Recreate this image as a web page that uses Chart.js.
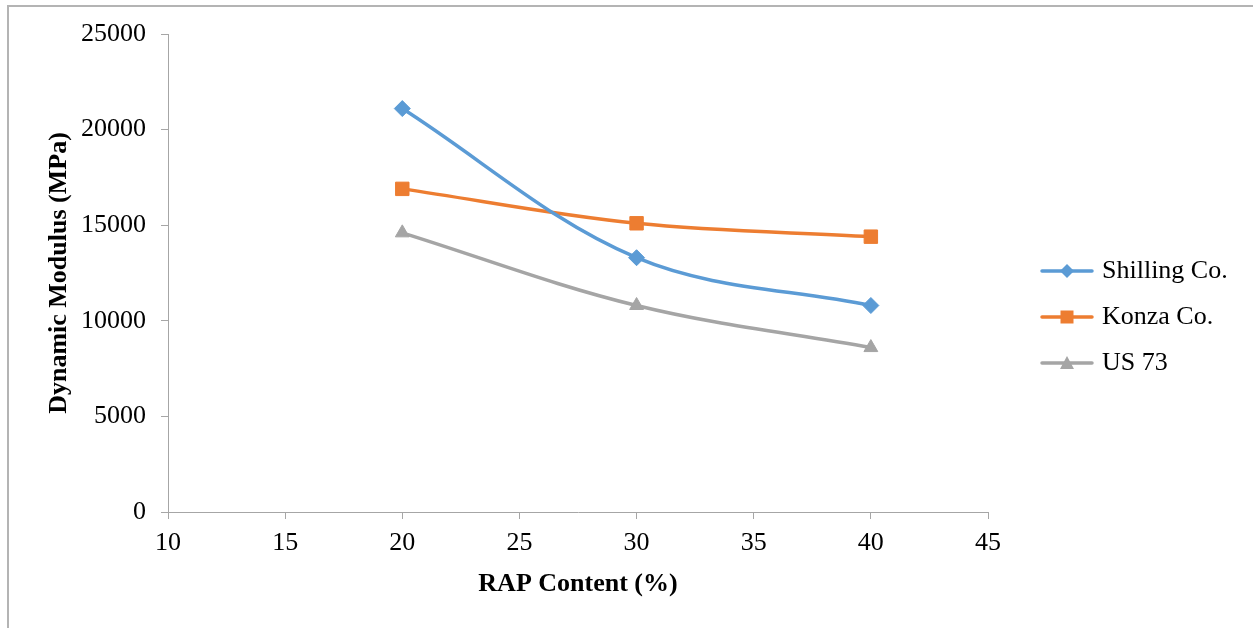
<!DOCTYPE html>
<html>
<head>
<meta charset="utf-8">
<title>Dynamic Modulus vs RAP Content</title>
<script src="https://cdn.jsdelivr.net/npm/chart.js@4/dist/chart.umd.min.js"></script>
<style>
  html, body { margin: 0; padding: 0; background: #fff; }
  #wrap { position: relative; width: 1253px; height: 628px; overflow: hidden; }
  #frame {
    position: absolute; left: 7px; top: 5px; right: 0; bottom: 0;
    border-top: 2px solid #b4b4b4; border-left: 2px solid #b4b4b4;
  }
  #chart { position: absolute; left: 0; top: 0; }
</style>
</head>
<body>
<div id="wrap">
  <div id="frame"></div>
  <canvas id="chart" width="1253" height="628"></canvas>
</div>
<script>
  const rapContent = [20, 30, 40];
  const shillingCo = [21100, 13300, 10800];
  const konzaCo = [16900, 15100, 14400];
  const us73 = [14600, 10800, 8600];
  const seriesNames = ['Shilling Co.', 'Konza Co.', 'US 73'];
  const xRange = [10, 45];
  const yRange = [0, 25000];

  const fontFamily = '"Liberation Serif", "Times New Roman", serif';
  const colors = ['#5b9bd5', '#ed7d31', '#a5a5a5'];
  const markers = ['rectRot', 'rect', 'triangle'];
  const markerRadius = [8, 9.5, 8];
  const axisColor = '#a6a6a6';

  // small line + marker swatch for the legend
  function legendIcon(color, marker) {
    const c = document.createElement('canvas');
    c.width = 54;
    c.height = 20;
    const g = c.getContext('2d');
    g.strokeStyle = color;
    g.fillStyle = color;
    g.lineWidth = 3.5;
    g.lineCap = 'round';
    g.beginPath();
    g.moveTo(2, 10);
    g.lineTo(52, 10);
    g.stroke();
    g.beginPath();
    if (marker === 'rectRot') {
      g.moveTo(27, 3); g.lineTo(34, 10); g.lineTo(27, 17); g.lineTo(20, 10);
    } else if (marker === 'rect') {
      g.rect(20.5, 3.5, 13, 13);
    } else {
      g.moveTo(27, 3); g.lineTo(34, 16); g.lineTo(20, 16);
    }
    g.closePath();
    g.fill();
    return c;
  }

  const seriesValues = [shillingCo, konzaCo, us73];
  const datasets = seriesValues.map((values, i) => ({
    label: seriesNames[i],
    data: values.map((v, j) => ({ x: rapContent[j], y: v })),
    borderColor: colors[i],
    backgroundColor: colors[i],
    borderWidth: 3.5,
    tension: 0.35,
    pointStyle: markers[i],
    pointRadius: markerRadius[i],
    pointBorderWidth: 1,
    pointHoverRadius: markerRadius[i],
    legendIcon: legendIcon(colors[i], markers[i]),
  }));

  const ctx = document.getElementById('chart').getContext('2d');
  new Chart(ctx, {
    type: 'line',
    data: { datasets: datasets },
    options: {
      responsive: false,
      animation: false,
      layout: { padding: { top: 34, left: 0, right: 23, bottom: 28 } },
      plugins: {
        tooltip: { enabled: false },
        legend: {
          position: 'right',
          labels: {
            font: { family: fontFamily, size: 26 },
            color: '#000',
            usePointStyle: true,
            pointStyleWidth: 44,
            padding: 20,
            generateLabels: (chart) =>
              chart.data.datasets.map((ds, i) => ({
                text: ds.label,
                pointStyle: ds.legendIcon,
                fontColor: '#000',
                lineWidth: 0,
                datasetIndex: i,
              })),
          },
        },
      },
      scales: {
        x: {
          type: 'linear',
          min: xRange[0],
          max: xRange[1],
          grid: { drawOnChartArea: false, color: axisColor, tickLength: 7 },
          border: { color: axisColor, width: 1 },
          ticks: {
            stepSize: 5,
            padding: 9,
            maxRotation: 0,
            color: '#000',
            font: { family: fontFamily, size: 26 },
          },
          title: {
            display: true,
            text: 'RAP Content (%)',
            color: '#000',
            font: { family: fontFamily, size: 26, weight: 'bold' },
            padding: { top: 2, bottom: 0 },
          },
          afterFit: (scale) => { scale.height = 88; },
        },
        y: {
          min: yRange[0],
          max: yRange[1],
          grid: { drawOnChartArea: false, color: axisColor, tickLength: 7 },
          border: { color: axisColor, width: 1 },
          ticks: {
            stepSize: 5000,
            padding: 15,
            color: '#000',
            font: { family: fontFamily, size: 26 },
            callback: (value) => String(value),
          },
          title: {
            display: true,
            text: 'Dynamic Modulus (MPa)',
            color: '#000',
            font: { family: fontFamily, size: 26, weight: 'bold' },
            padding: { top: 44, bottom: 0 },
          },
          afterFit: (scale) => { scale.width = 168; },
        },
        // empty spacer between the plot and the legend
        gap: {
          type: 'linear',
          position: 'right',
          display: true,
          grid: { display: false },
          border: { display: false },
          ticks: { display: false },
          afterFit: (scale) => { scale.width = 37; },
        },
      },
    },
  });
</script>
</body>
</html>
